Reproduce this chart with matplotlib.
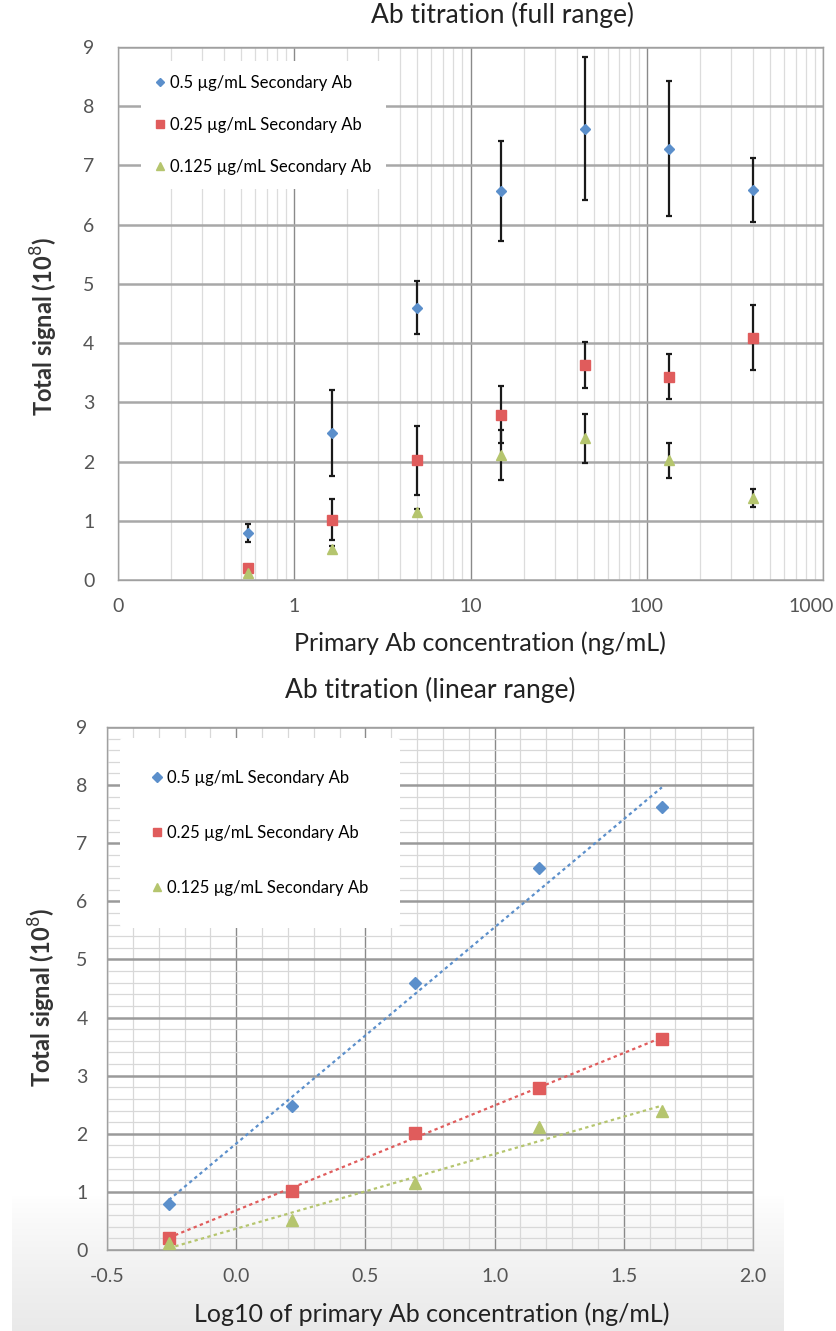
import numpy as np
import matplotlib.pyplot as plt
from matplotlib.ticker import MultipleLocator, LogLocator, NullFormatter
from matplotlib.transforms import ScaledTranslation

# Primary Ab concentrations (ng/mL), 3-fold dilution series
conc = [0.549, 1.646, 4.94, 14.8, 44.4, 133.3, 400]

# Total signal (10^8) and error bars per secondary Ab concentration
sig_05 = [0.79, 2.48, 4.60, 6.57, 7.62, 7.28, 6.59]
err_05 = [0.15, 0.73, 0.45, 0.85, 1.21, 1.14, 0.54]
sig_025 = [0.21, 1.02, 2.02, 2.79, 3.63, 3.43, 4.09]
err_025 = [0.05, 0.34, 0.58, 0.48, 0.39, 0.38, 0.55]
sig_0125 = [0.12, 0.52, 1.15, 2.11, 2.39, 2.02, 1.38]
err_0125 = [0.03, 0.05, 0.05, 0.42, 0.42, 0.30, 0.15]

labels = ["0.5 µg/mL Secondary Ab", "0.25 µg/mL Secondary Ab", "0.125 µg/mL Secondary Ab"]
colors = ["#5b8fcb", "#e05c5c", "#b5c56e"]
markers = ["D", "s", "^"]
msizes = [5.5, 7, 7]

n_lin = 5  # points used in the linear-range plot

plt.rcParams['font.family'] = ['Lato', 'DejaVu Sans']

fig = plt.figure(figsize=(8.36, 13.31), dpi=100)

# light grey screenshot shading at the bottom
bg = fig.add_axes([12/836, 0, 772/836, 135/1331], zorder=-5)
t = np.linspace(0, 1, 135) ** 0.8
shade = 1 - 0.085 * t
bg.imshow(np.repeat(shade[:, None, None], 3, axis=2) * np.ones((1, 10, 1)),
          aspect='auto', extent=[0, 1, 0, 1], interpolation='bilinear')
bg.axis('off')

series = [(sig_05, err_05), (sig_025, err_025), (sig_0125, err_0125)]
txt = '#222222'

# ---------- top: full range ----------
ax1 = fig.add_axes([118/836, 1 - 580/1331, 705/836, 533/1331])
ax1.set_xscale('log')
ax1.set_xlim(0.1, 1000)
ax1.set_ylim(0, 9)
ax1.set_xticks([0.1, 1, 10, 100, 1000])
ax1.set_xticklabels(['0', '1', '10', '100', '1000'])
ax1.xaxis.set_minor_locator(LogLocator(base=10, subs=np.arange(2, 10)))
ax1.xaxis.set_minor_formatter(NullFormatter())
ax1.set_yticks(range(0, 10))
ax1.grid(True, which='minor', axis='x', color='#dcdcdc', lw=0.9)
ax1.grid(True, which='major', axis='x', color='#8a8a8a', lw=1.0)
ax1.grid(True, which='major', axis='y', color='#a8a8a8', lw=1.8)
ax1.set_axisbelow(True)

for (s, e), c, m, ms, lab in zip(series, colors, markers, msizes, labels):
    ax1.errorbar(conc, s, yerr=e, fmt='none', ecolor='#1a1a1a', elinewidth=1.6,
                 capsize=2.5, capthick=1.6, zorder=3)
    ax1.plot(conc, s, linestyle='none', marker=m, color=c, ms=ms,
             markeredgecolor=c, label=lab, zorder=4)

ax1.set_title("Ab titration (full range)", fontsize=19, color=txt, x=0.545, y=1.030)
ax1.set_xlabel("Primary Ab concentration (ng/mL)", fontsize=18, color=txt)
ax1.xaxis.set_label_coords(0.514, -0.096)
ax1.set_ylabel("Total signal (10$^{8}$)", fontsize=17, fontweight='bold', color='#333333')
ax1.yaxis.set_label_coords(-0.082, 0.475)

ax1.legend(loc='upper left', bbox_to_anchor=(0.033, 0.974), borderaxespad=0,
           fontsize=12, frameon=True, facecolor='white', edgecolor='none', framealpha=1,
           handlelength=0.6, handletextpad=0.3, labelspacing=1.55, borderpad=0.85,
           markerscale=0.8)

# ---------- bottom: linear range ----------
ax2 = fig.add_axes([107/836, 1 - 1250/1331, 646/836, 523/1331])
ax2.set_facecolor('none')
ax2.set_xlim(-0.5, 2.0)
ax2.set_ylim(0, 9)
ax2.xaxis.set_major_locator(MultipleLocator(0.5))
ax2.xaxis.set_minor_locator(MultipleLocator(0.1))
ax2.yaxis.set_major_locator(MultipleLocator(1))
ax2.yaxis.set_minor_locator(MultipleLocator(0.2))
ax2.set_xticklabels([f"{v:.1f}" for v in ax2.get_xticks()])
ax2.grid(True, which='minor', color='#d8d8d8', lw=0.9)
ax2.grid(True, which='major', axis='x', color='#8a8a8a', lw=1.0)
ax2.grid(True, which='major', axis='y', color='#9a9a9a', lw=1.8)
ax2.set_axisbelow(True)

logc = np.log10(conc[:n_lin])
for (s, e), c, m, ms, lab in zip(series, colors, markers, msizes, labels):
    y = np.array(s[:n_lin])
    k, b = np.polyfit(logc, y, 1)
    xx = np.array([logc[0], logc[-1]])
    ax2.plot(xx, k * xx + b, linestyle=(0, (1.5, 1.5)), color=c, lw=1.6, zorder=3)
    ax2.plot(logc, y, linestyle='none', marker=m, color=c, ms=ms + 1,
             markeredgecolor=c, label=lab, zorder=4)

ax2.set_title("Ab titration (linear range)", fontsize=19, color=txt, y=1.040)
ax2.set_xlabel("Log10 of primary Ab concentration (ng/mL)", fontsize=18, color=txt)
ax2.xaxis.set_label_coords(0.503, -0.100)
ax2.set_ylabel("Total signal (10$^{8}$)", fontsize=17, fontweight='bold', color='#333333')
ax2.yaxis.set_label_coords(-0.076, 0.482)

ax2.legend(loc='upper left', bbox_to_anchor=(0.02, 0.979), borderaxespad=0,
           fontsize=12, frameon=True, facecolor='white', edgecolor='none', framealpha=1,
           handlelength=0.6, handletextpad=0.3, labelspacing=2.35, borderpad=1.9,
           markerscale=0.8)

for ax, pad in ((ax1, 17), (ax2, 14)):
    ax.tick_params(axis='both', which='both', length=0, labelsize=14, colors='#555555')
    ax.tick_params(axis='y', pad=pad)
    ax.tick_params(axis='x', pad=13)
    for sp in ax.spines.values():
        sp.set_color('#a0a0a0')
        sp.set_linewidth(1.0)

# last label of the log axis sits a little left of the axis end
last = ax1.get_xticklabels()[-1]
last.set_transform(last.get_transform() + ScaledTranslation(-0.12, 0, fig.dpi_scale_trans))

fig.savefig("out.png", dpi=100)
